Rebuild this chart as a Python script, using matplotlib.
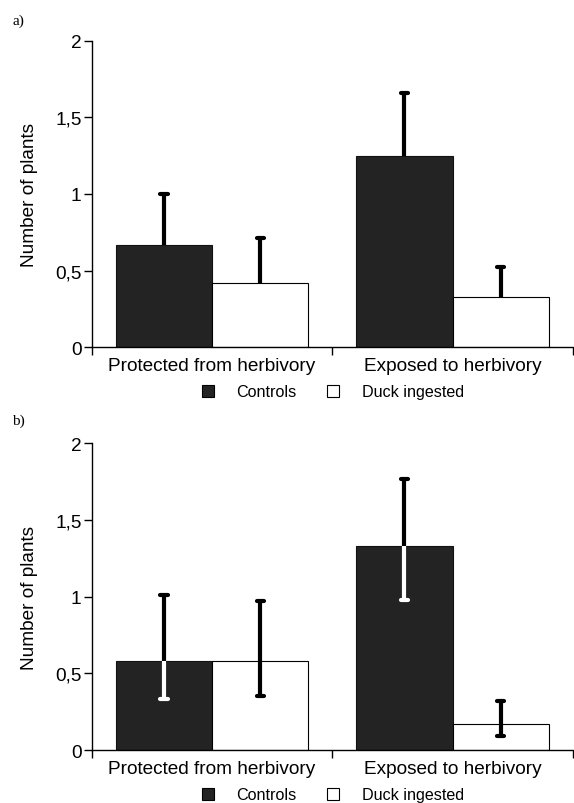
import matplotlib

matplotlib.use("Agg")
import matplotlib.pyplot as plt
import numpy as np
from matplotlib.patches import Patch

plt.rcParams["font.family"] = ["Liberation Sans", "DejaVu Sans"]

# data
groups = ["Protected from herbivory", "Exposed to herbivory"]
series = ["Controls", "Duck ingested"]
yticks = [0, 0.5, 1, 1.5, 2]
ytick_labels = ["0", "0,5", "1", "1,5", "2"]

# panel a: means and upper error only
a_controls = [0.67, 1.25]
a_duck = [0.42, 0.33]
a_controls_up = [0.33, 0.41]
a_duck_up = [0.29, 0.19]

# panel b: means with asymmetric errors
b_controls = [0.58, 1.33]
b_duck = [0.58, 0.17]
b_controls_up = [0.43, 0.44]
b_controls_lo = [0.25, 0.35]
b_duck_up = [0.39, 0.15]
b_duck_lo = [0.23, 0.08]

DARK = "#232323"
W = 0.4


def err_segment(ax, x, y0, y1, color):
    ax.vlines(x, y0, y1, color=color, lw=3.0, zorder=4)
    ax.hlines(y1, x - 0.015, x + 0.015, color=color, lw=3.0, zorder=4,
              capstyle="round")


def panel(ax, ctrl, duck, ctrl_up, duck_up, ctrl_lo=None, duck_lo=None):
    x = np.arange(len(groups)) + 0.5
    ax.bar(x - W / 2, ctrl, W, color=DARK, edgecolor="#111111", lw=0.8, zorder=2)
    ax.bar(x + W / 2, duck, W, color="white", edgecolor="black", lw=0.8, zorder=2)
    for i in range(len(groups)):
        err_segment(ax, x[i] - W / 2, ctrl[i], ctrl[i] + ctrl_up[i], "black")
        err_segment(ax, x[i] + W / 2, duck[i], duck[i] + duck_up[i], "black")
        if ctrl_lo is not None:
            err_segment(ax, x[i] - W / 2, ctrl[i], ctrl[i] - ctrl_lo[i], "white")
            err_segment(ax, x[i] + W / 2, duck[i], duck[i] - duck_lo[i], "black")

    ax.set_xlim(0, 2)
    ax.set_ylim(0, 2)
    for s in ("top", "right"):
        ax.spines[s].set_visible(False)
    for s in ("left", "bottom"):
        ax.spines[s].set_linewidth(1.0)
        ax.spines[s].set_clip_on(False)

    ax.set_yticks(yticks)
    ax.set_yticklabels(ytick_labels, fontsize=13.7)
    ax.tick_params(axis="y", length=6, width=1.0, pad=1.5)

    ax.set_xticks([0, 1, 2])
    ax.set_xticklabels([])
    ax.set_xticks(x, minor=True)
    ax.set_xticklabels(groups, minor=True, fontsize=13.7)
    ax.tick_params(axis="x", which="major", length=5.5, width=1.0, direction="out")
    ax.tick_params(axis="x", which="minor", length=0, pad=7)
    for t in ax.xaxis.get_majorticklines():
        t.set_clip_on(False)

    ax.set_ylabel("Number of plants", fontsize=13.7)
    ax.yaxis.set_label_coords(-0.112, 0.5)


fig = plt.figure(figsize=(5.74, 8.04), dpi=100)
ax_a = fig.add_axes([0.160, 0.567, 0.838, 0.381])
ax_b = fig.add_axes([0.160, 0.0659, 0.838, 0.3815])

panel(ax_a, a_controls, a_duck, a_controls_up, a_duck_up)
panel(ax_b, b_controls, b_duck, b_controls_up, b_duck_up, b_controls_lo, b_duck_lo)

handles = [Patch(facecolor=DARK, edgecolor="black", lw=0.8),
           Patch(facecolor="white", edgecolor="black", lw=0.8)]
for ypos in (1 - 393 / 804, 1 - 796 / 804):
    fig.legend(handles, series, loc="center", bbox_to_anchor=(333 / 574, ypos),
               ncol=2, frameon=False, fontsize=11.6, borderpad=0,
               handlelength=0.75, handleheight=0.75, handletextpad=1.4,
               columnspacing=1.9)

fig.text(12 / 574, 1 - 21 / 804, "a)", family="Liberation Serif", fontsize=11,
         va="center", ha="left")
fig.text(12 / 574, 1 - 421 / 804, "b)", family="Liberation Serif", fontsize=11,
         va="center", ha="left")

fig.savefig("out.png", dpi=100)
plt.close(fig)
